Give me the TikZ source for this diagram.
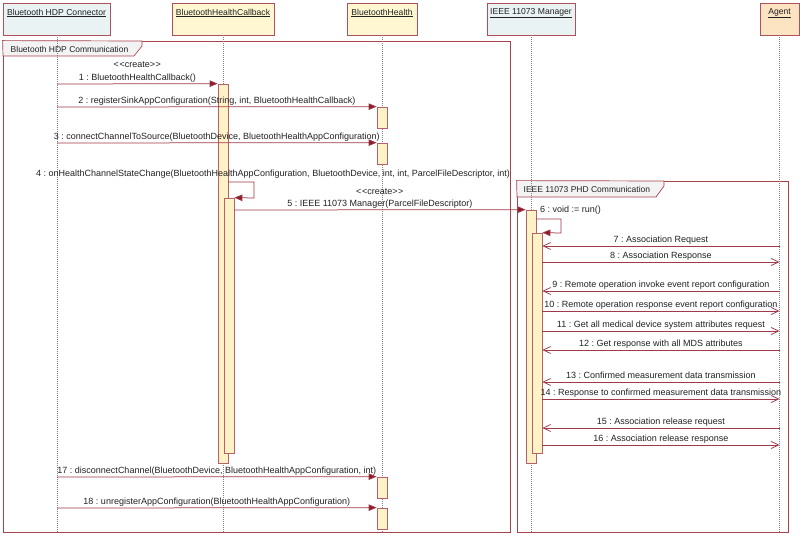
\documentclass[tikz,border=0pt]{standalone}
\usepackage{fontspec}
\setmainfont{Liberation Sans}
\usetikzlibrary{arrows.meta,calc}
\definecolor{hcyan}{HTML}{EAF3F3}
\definecolor{hyellow}{HTML}{FFF7D1}
\definecolor{hpeach}{HTML}{FCE3C2}
\definecolor{bordercol}{HTML}{B0505A}
\definecolor{framecol}{HTML}{A8434E}
\definecolor{actfill}{HTML}{FFF2C6}
\definecolor{actborder}{HTML}{B8606A}
\definecolor{msgcol}{HTML}{A03A48}
\definecolor{headcol}{HTML}{8E1B2B}
\definecolor{tabfill}{HTML}{F3F3F3}
\definecolor{txtcol}{HTML}{222222}
\tikzset{
  hdrbox/.style={draw=bordercol, line width=0.8pt, rectangle, inner sep=0pt},
  hdrtxt/.style={font=\fontsize{8.6}{10}\selectfont, text=txtcol, inner sep=0pt},
  lifeline/.style={draw=gray, line width=0.5pt, dash pattern=on 1pt off 1pt},
  framebox/.style={draw=framecol, line width=0.8pt, rectangle, inner sep=0pt},
  tabshape/.style={draw=framecol, line width=0.7pt, fill=tabfill},
  tabtxt/.style={font=\fontsize{8.5}{10}\selectfont, text=txtcol, inner sep=0pt, anchor=west},
  actbox/.style={draw=actborder, fill=actfill, line width=0.7pt, rectangle, inner sep=0pt, minimum width=10pt},
  syncmsg/.style={draw=msgcol, line width=0.75pt, -{Triangle[length=8pt,width=6.5pt,fill=headcol]}, color=msgcol},
  asyncmsg/.style={draw=msgcol, line width=0.75pt, -{Straight Barb[length=7.5pt,width=7pt]}, color=msgcol},
  lbl/.style={midway, anchor=base, yshift=3.5pt, inner sep=0pt, text=txtcol, font=\fontsize{9}{10}\selectfont},
  freelbl/.style={inner sep=0pt, text=txtcol, font=\fontsize{9}{10}\selectfont}
}
\newcommand{\crt}{<\kern0.6pt<create>\kern0.6pt>}
\frenchspacing
\begin{document}
\begin{tikzpicture}[x=1pt,y=-1pt]
\useasboundingbox[fill=white] (0,0) rectangle (800,537);

% frames
\node[framebox, minimum width=507pt, minimum height=491pt] (f1) at (256.5,286.5) {};
\draw[tabshape] (f1.north west) -- (142,41) -- (142,46) -- (134,56) -- (3,56) -- cycle;
\node[tabtxt] (f1t) at (10.5,49) {Bluetooth HDP Communication};
\node[framebox, minimum width=271pt, minimum height=351pt] (f2) at (652.5,356.5) {};
\draw[tabshape] (f2.north west) -- (664,181) -- (664,186) -- (656,197) -- (517,197) -- cycle;
\node[tabtxt] (f2t) at (523.5,189) {IEEE 11073 PHD Communication};

% headers
\node[hdrbox, fill=hcyan, minimum width=107pt, minimum height=32pt] (h1) at (56.5,19) {};
\node[hdrbox, fill=hyellow, minimum width=102pt, minimum height=32pt] (h2) at (223,19) {};
\node[hdrbox, fill=hyellow, minimum width=70pt, minimum height=32pt] (h3) at (382,19) {};
\node[hdrbox, fill=hcyan, minimum width=88pt, minimum height=32pt] (h4) at (531,19) {};
\node[hdrbox, fill=hpeach, minimum width=39pt, minimum height=32pt] (h5) at (779.5,19) {};
\node[hdrtxt] (h1t) at (56.5,13) {\underline{Bluetooth HDP Connector}};
\node[hdrtxt] (h2t) at (223,13) {\underline{BluetoothHealthCallback}};
\node[hdrtxt] (h3t) at (382,13) {\underline{BluetoothHealth}};
\node[hdrtxt] (h4t) at (531,13) {\underline{IEEE 11073 Manager}};
\node[hdrtxt] (h5t) at (779.5,13) {\underline{Agent}};

% lifelines
\coordinate (e1) at (57,533);
\coordinate (e2) at (223,533);
\coordinate (e3) at (382,533);
\coordinate (e4) at (531,533);
\coordinate (e5) at (779.5,533);
\draw[lifeline] (h1.south -| e1) -- (e1);
\draw[lifeline] (h2.south) -- (e2);
\draw[lifeline] (h3.south) -- (e3);
\draw[lifeline] (h4.south) -- (e4);
\draw[lifeline] (h5.south) -- (e5);

% activations
\node[actbox, minimum height=379pt] (cb1) at (223,273.5) {};
\node[actbox, minimum height=255pt] (cb2) at (229,325.5) {};
\node[actbox, minimum height=21pt] (bh1) at (382,117.5) {};
\node[actbox, minimum height=21pt] (bh2) at (382,153.5) {};
\node[actbox, minimum height=21pt] (bh3) at (382,487.5) {};
\node[actbox, minimum height=21pt] (bh4) at (382,518.5) {};
\node[actbox, minimum height=253pt] (mg1) at (531,336.5) {};
\node[actbox, minimum height=220pt] (mg2) at (537,343) {};

% messages on the left
\coordinate (p1) at (57,84);
\coordinate (p2) at (57,107);
\coordinate (p3) at (57,143);
\coordinate (p17) at (57,477);
\coordinate (p18) at (57,508);
\draw[syncmsg] (p1) -- node[lbl, yshift=12.5pt] (c1) {\crt} node[lbl] (l1) {1 : BluetoothHealthCallback()} (cb1.north west);
\draw[syncmsg] (p2) -- node[lbl] (l2) {2 : registerSinkAppConfiguration(String, int, BluetoothHealthCallback)} (bh1.north west);
\draw[syncmsg] (p3) -- node[lbl] (l3) {3 : connectChannelToSource(BluetoothDevice, BluetoothHealthAppConfiguration)} (bh2.north west);

% self call 4
\coordinate (s4a) at (228,182);
\coordinate (s4b) at (254,182);
\coordinate (s4c) at (254,198);
\draw[syncmsg] (s4a) -- (s4b) -- (s4c) -- (cb2.north east);
\node[freelbl, anchor=base] (l4) at (273,176.5) {4 : onHealthChannelStateChange(BluetoothHealthAppConfiguration, BluetoothDevice, int, int, ParcelFileDescriptor, int)};

% message 5
\coordinate (s5) at (234,210);
\draw[syncmsg] (s5) -- node[lbl, yshift=11.5pt] (c5) {\crt} node[lbl] (l5) {5 : IEEE 11073 Manager(ParcelFileDescriptor)} (mg1.north west);

% self call 6
\coordinate (s6a) at (536,219);
\coordinate (s6b) at (561,219);
\coordinate (s6c) at (561,233);
\draw[syncmsg] (s6a) -- (s6b) -- (s6c) -- (mg2.north east);
\node[freelbl, anchor=base west] (l6) at (540,212.5) {6 : void := run()};

% IEEE 11073 exchange
\coordinate (a7) at (779.5,246);
\coordinate (a8) at (779.5,262);
\coordinate (a9) at (779.5,291);
\coordinate (a10) at (779.5,311);
\coordinate (a11) at (779.5,331);
\coordinate (a12) at (779.5,350);
\coordinate (a13) at (779.5,382);
\coordinate (a14) at (779.5,399);
\coordinate (a15) at (779.5,428);
\coordinate (a16) at (779.5,445);
\draw[asyncmsg] (a7) -- node[lbl] (l7) {7 : Association Request} (a7 -| mg2.east);
\draw[asyncmsg] (a8 -| mg2.east) -- node[lbl] (l8) {8 : Association Response} (a8);
\draw[asyncmsg] (a9) -- node[lbl] (l9) {9 : Remote operation invoke event report configuration} (a9 -| mg2.east);
\draw[asyncmsg] (a10 -| mg2.east) -- node[lbl] (l10) {10 : Remote operation response event report configuration} (a10);
\draw[asyncmsg] (a11 -| mg2.east) -- node[lbl] (l11) {11 : Get all medical device system attributes request} (a11);
\draw[asyncmsg] (a12) -- node[lbl] (l12) {12 : Get response with all MDS attributes} (a12 -| mg2.east);
\draw[asyncmsg] (a13) -- node[lbl] (l13) {13 : Confirmed measurement data transmission} (a13 -| mg2.east);
\draw[asyncmsg] (a14 -| mg2.east) -- node[lbl] (l14) {14 : Response to confirmed measurement data transmission} (a14);
\draw[asyncmsg] (a15) -- node[lbl] (l15) {15 : Association release request} (a15 -| mg2.east);
\draw[asyncmsg] (a16 -| mg2.east) -- node[lbl] (l16) {16 : Association release response} (a16);

% messages 17, 18
\draw[syncmsg] (p17) -- node[lbl] (l17) {17 : disconnectChannel(BluetoothDevice, BluetoothHealthAppConfiguration, int)} (bh3.north west);
\draw[syncmsg] (p18) -- node[lbl] (l18) {18 : unregisterAppConfiguration(BluetoothHealthAppConfiguration)} (bh4.north west);
\end{tikzpicture}
\end{document}
